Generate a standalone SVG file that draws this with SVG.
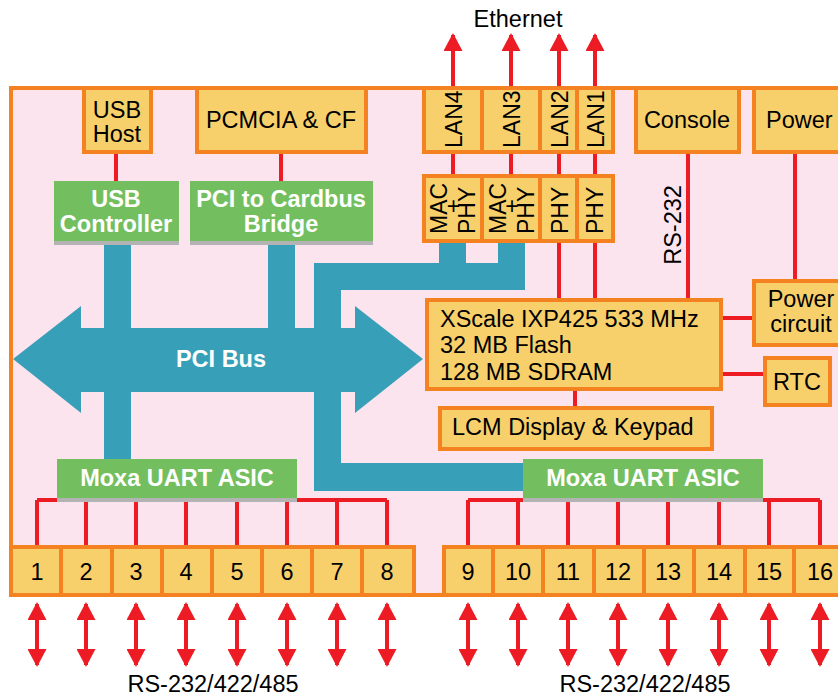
<svg xmlns="http://www.w3.org/2000/svg" width="838" height="700" viewBox="0 0 838 700">
<defs>
<style>
.box{fill:#F8D06B;stroke:#F58220;stroke-width:4}
.grn{fill:#73BF5F}
.gry{fill:#B3B3B3}
.teal{fill:#389FB8}
.red{stroke:#ED1C24;stroke-width:4;fill:none}
.a1{marker-end:url(#ah)}
.a2{marker-start:url(#ah);marker-end:url(#ah)}
.t{font-family:"Liberation Sans",Arial,sans-serif;font-size:23.5px;fill:#000}
.tc{text-anchor:middle}
.w{font-family:"Liberation Sans",Arial,sans-serif;font-size:23.5px;font-weight:bold;fill:#fff;text-anchor:middle}
.r{font-family:"Liberation Sans",Arial,sans-serif;font-size:23px;fill:#000}
</style>
<marker id="ah" viewBox="0 0 18 19" refX="16" refY="9.5" markerWidth="18" markerHeight="19" markerUnits="userSpaceOnUse" orient="auto-start-reverse">
<path d="M0,0 L18,9.5 L0,19 Z" fill="#ED1C24"/>
</marker>
</defs>
<rect x="0" y="0" width="838" height="700" fill="#fff"/>
<g id="board"><rect x="11" y="88" width="900" height="507" fill="#FCE4EF" stroke="#F58220" stroke-width="4"/></g>
<text class="t tc" x="518" y="27">Ethernet</text>
<text class="t tc" x="213" y="692">RS-232/422/485</text>
<text class="t tc" x="645" y="692">RS-232/422/485</text>
<g id="connectors">
<path class="red" d="M116,152V181M281,152V181"/>
<path class="red a1" d="M453,88V35"/><path class="red a1" d="M511,88V35"/><path class="red a1" d="M559,88V35"/><path class="red a1" d="M595,88V35"/>
<path class="red" d="M453,152V176M511,152V176M559,152V176M595,152V176M559,241V300M595,241V300"/>
<path class="red" d="M688,152V300M795,152V281M723,318H754M723,374H765M575,389V408"/>
<path class="red" d="M37,500H387M37,500V547M86,500V547M136,500V547M186,500V547M237,500V547M287,500V547M337,500V547M387,500V547"/>
<path class="red" d="M468,500H820M468,500V547M518,500V547M568,500V547M618,500V547M668,500V547M719,500V547M769,500V547M820,500V547"/>
<path class="red a2" d="M37,604V665"/><path class="red a2" d="M86,604V665"/><path class="red a2" d="M136,604V665"/><path class="red a2" d="M186,604V665"/><path class="red a2" d="M237,604V665"/><path class="red a2" d="M287,604V665"/><path class="red a2" d="M337,604V665"/><path class="red a2" d="M387,604V665"/>
<path class="red a2" d="M468,604V665"/><path class="red a2" d="M518,604V665"/><path class="red a2" d="M568,604V665"/><path class="red a2" d="M618,604V665"/><path class="red a2" d="M668,604V665"/><path class="red a2" d="M719,604V665"/><path class="red a2" d="M769,604V665"/><path class="red a2" d="M820,604V665"/>
<path class="teal" d="M104,245H131V459H104Z M268,245H295V330H268Z"/>
<path class="teal" d="M439,243H466V263H498V243H525V290H341V463H523V491H314V263H439Z"/>
</g>
<g id="pci-bus">
<path class="teal" d="M13,359L81,306V328H355V306L423,359L355,413V392H81V413Z"/>
<text class="w" x="221" y="367">PCI Bus</text>
</g>
<g id="usb-host"><rect class="box" x="84" y="88" width="67" height="64"/><text class="t tc" x="117" y="118">USB</text><text class="t tc" x="117" y="142">Host</text></g>
<g id="pcmcia"><rect class="box" x="197" y="88" width="169" height="64"/><text class="t tc" x="281" y="128">PCMCIA &amp; CF</text></g>
<g id="usb-controller"><rect class="grn" x="54" y="181" width="125" height="60"/><rect class="gry" x="54" y="241" width="125" height="4"/><text class="w" x="116" y="207">USB</text><text class="w" x="116" y="232">Controller</text></g>
<g id="cardbus"><rect class="grn" x="190" y="181" width="183" height="60"/><rect class="gry" x="190" y="241" width="183" height="4"/><text class="w" x="281" y="207">PCI to Cardbus</text><text class="w" x="281" y="232">Bridge</text></g>
<g id="lan4"><rect class="box" x="424" y="88" width="58" height="64"/><text class="r" transform="translate(462,148) rotate(-90)">LAN4</text></g>
<g id="lan3"><rect class="box" x="482" y="88" width="58" height="64"/><text class="r" transform="translate(520,148) rotate(-90)">LAN3</text></g>
<g id="lan2"><rect class="box" x="540" y="88" width="37" height="64"/><text class="r" transform="translate(568,148) rotate(-90)">LAN2</text></g>
<g id="lan1"><rect class="box" x="577" y="88" width="36" height="64"/><text class="r" transform="translate(604,148) rotate(-90)">LAN1</text></g>
<g id="macphy4"><rect class="box" x="424" y="176" width="58" height="65"/><text class="r" transform="translate(447,234) rotate(-90)">MAC</text><text class="r" x="453.5" y="214" text-anchor="middle">+</text><text class="r" transform="translate(475,234) rotate(-90)">PHY</text></g>
<g id="macphy3"><rect class="box" x="482" y="176" width="58" height="65"/><text class="r" transform="translate(506,234) rotate(-90)">MAC</text><text class="r" x="512" y="214" text-anchor="middle">+</text><text class="r" transform="translate(534,234) rotate(-90)">PHY</text></g>
<g id="phy2"><rect class="box" x="540" y="176" width="37" height="65"/><text class="r" transform="translate(568,234) rotate(-90)">PHY</text></g>
<g id="phy1"><rect class="box" x="577" y="176" width="36" height="65"/><text class="r" transform="translate(603,234) rotate(-90)">PHY</text></g>
<g id="console"><rect class="box" x="636" y="88" width="103" height="64"/><text class="t tc" x="687" y="128">Console</text></g>
<g id="power"><rect class="box" x="754" y="88" width="110" height="64"/><text class="t" x="766" y="128">Power</text></g>
<text class="t" transform="translate(681,225) rotate(-90)" text-anchor="middle">RS-232</text>
<g id="cpu"><rect class="box" x="427" y="300" width="294" height="89"/><text class="t" x="440" y="327">XScale IXP425 533 MHz</text><text class="t" x="440" y="353">32 MB Flash</text><text class="t" x="440" y="380">128 MB SDRAM</text></g>
<g id="power-circuit"><rect class="box" x="754" y="281" width="110" height="64"/><text class="t tc" x="801" y="307">Power</text><text class="t tc" x="801" y="332">circuit</text></g>
<g id="rtc"><rect class="box" x="765" y="358" width="65" height="47"/><text class="t tc" x="797" y="390">RTC</text></g>
<g id="lcm"><rect class="box" x="440" y="408" width="272" height="41"/><text class="t" x="452" y="435">LCM Display &amp; Keypad</text></g>
<g id="uart1"><rect class="grn" x="57" y="459" width="240" height="39"/><rect class="gry" x="57" y="498" width="240" height="4"/><text class="w" x="177" y="486">Moxa UART ASIC</text></g>
<g id="uart2"><rect class="grn" x="523" y="459" width="240" height="39"/><rect class="gry" x="523" y="498" width="240" height="4"/><text class="w" x="643" y="486">Moxa UART ASIC</text></g>
<g id="ports">
<rect class="box" x="11" y="547" width="50" height="48"/><rect class="box" x="61" y="547" width="51" height="48"/><rect class="box" x="112" y="547" width="50" height="48"/><rect class="box" x="162" y="547" width="50" height="48"/><rect class="box" x="212" y="547" width="50" height="48"/><rect class="box" x="262" y="547" width="50" height="48"/><rect class="box" x="312" y="547" width="50" height="48"/><rect class="box" x="362" y="547" width="52" height="48"/>
<rect class="box" x="444" y="547" width="49" height="48"/><rect class="box" x="493" y="547" width="50" height="48"/><rect class="box" x="543" y="547" width="51" height="48"/><rect class="box" x="594" y="547" width="50" height="48"/><rect class="box" x="644" y="547" width="50" height="48"/><rect class="box" x="694" y="547" width="51" height="48"/><rect class="box" x="745" y="547" width="49" height="48"/><rect class="box" x="794" y="547" width="51" height="48"/>
<g class="t tc">
<text x="37" y="580">1</text><text x="86" y="580">2</text><text x="136" y="580">3</text><text x="186" y="580">4</text><text x="237" y="580">5</text><text x="287" y="580">6</text><text x="337" y="580">7</text><text x="387" y="580">8</text>
<text x="468" y="580">9</text><text x="518" y="580">10</text><text x="568" y="580">11</text><text x="618" y="580">12</text><text x="668" y="580">13</text><text x="719" y="580">14</text><text x="769" y="580">15</text><text x="820" y="580">16</text>
</g>
</g>
</svg>
